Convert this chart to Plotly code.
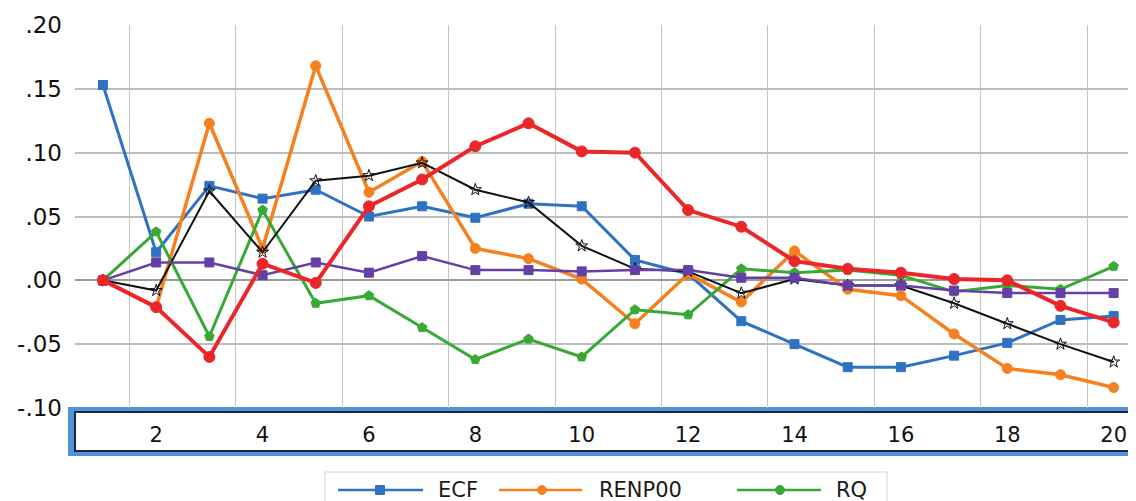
import plotly.graph_objects as go

periods = list(range(1, 21))

ecf = [0.153, 0.022, 0.074, 0.064, 0.071, 0.050, 0.058, 0.049, 0.060, 0.058,
       0.016, 0.005, -0.032, -0.050, -0.068, -0.068, -0.059, -0.049, -0.031, -0.028]
renp00 = [0.000, -0.021, 0.123, 0.025, 0.168, 0.069, 0.093, 0.025, 0.017, 0.001,
          -0.034, 0.005, -0.017, 0.023, -0.007, -0.012, -0.042, -0.069, -0.074, -0.084]
rq = [0.000, 0.038, -0.044, 0.055, -0.018, -0.012, -0.037, -0.062, -0.046, -0.060,
      -0.023, -0.027, 0.009, 0.006, 0.008, 0.004, -0.009, -0.004, -0.007, 0.011]
series_black = [0.000, -0.008, 0.070, 0.022, 0.078, 0.082, 0.092, 0.071, 0.061, 0.027,
                0.009, 0.007, -0.010, 0.001, -0.004, -0.004, -0.018, -0.034, -0.050, -0.064]
series_red = [0.000, -0.021, -0.060, 0.013, -0.002, 0.058, 0.079, 0.105, 0.123, 0.101,
              0.100, 0.055, 0.042, 0.015, 0.009, 0.006, 0.001, 0.000, -0.020, -0.033]
series_purple = [0.000, 0.014, 0.014, 0.004, 0.014, 0.006, 0.019, 0.008, 0.008, 0.007,
                 0.008, 0.008, 0.002, 0.002, -0.004, -0.004, -0.008, -0.010, -0.010, -0.010]

y_tickvals = [-0.10, -0.05, 0.00, 0.05, 0.10, 0.15, 0.20]
y_ticktext = ["-.10", "-.05", ".00", ".05", ".10", ".15", ".20"]
x_tickvals = [2, 4, 6, 8, 10, 12, 14, 16, 18, 20]

# name, values, colour, line width, marker symbol, marker size, shown in legend
traces = [
    ("ECF", ecf, "#2f72c2", 3, "square", 9, True),
    ("RENP00", renp00, "#f5801f", 3.5, "circle", 10, True),
    ("RQ", rq, "#38a935", 3, "pentagon", 10, True),
    ("Series 4", series_black, "#111111", 2, "star-open", 9, False),
    ("Series 6", series_purple, "#6440a6", 2.5, "square", 9, False),
    ("Series 5", series_red, "#ea2629", 4, "circle", 11, False),
]

# the page body adds an 8px offset; geometry below is in screenshot pixels
OFF = 8
L, T, W, H = 75, 25, 1061, 383
FIG_W, FIG_H = 1136, 501


def px_x(p):
    return (p - L) / W


def px_y(p):
    return (T + H - p) / H


fig = go.Figure()
for name, vals, color, lw, sym, ms, show in traces:
    fig.add_trace(go.Scatter(
        x=periods, y=vals, name=name, mode="lines+markers",
        line=dict(color=color, width=lw),
        marker=dict(symbol=sym, size=ms, color=color, line=dict(color=color, width=1)),
        showlegend=False,
    ))

shapes = [
    # blue framed box behind the x tick labels
    dict(type="rect", xref="paper", yref="paper", layer="below",
         x0=px_x(68), x1=px_x(1145), y0=px_y(456), y1=px_y(407),
         fillcolor="#4f93db", line=dict(width=0)),
    dict(type="rect", xref="paper", yref="paper", layer="below",
         x0=px_x(75), x1=px_x(1145), y0=px_y(451), y1=px_y(412),
         fillcolor="white", line=dict(color="#1c2540", width=2)),
    # legend frame
    dict(type="rect", xref="paper", yref="paper", layer="below",
         x0=px_x(325), x1=px_x(887), y0=px_y(540), y1=px_y(472),
         fillcolor="white", line=dict(color="#d2d2d2", width=1)),
]
annotations = []

legend_slots = [(338, 423, 380, 437), (499, 582, 542, 598), (737, 821, 780, 835)]
leg_y = 490
for (name, vals, color, lw, sym, ms, show), (lx0, lx1, mx, tx) in zip(
        [t for t in traces if t[6]], legend_slots):
    shapes.append(dict(type="line", xref="paper", yref="paper",
                       x0=px_x(lx0), x1=px_x(lx1), y0=px_y(leg_y), y1=px_y(leg_y),
                       line=dict(color=color, width=2.5)))
    shapes.append(dict(type="rect" if sym == "square" else "circle",
                       xref="paper", yref="paper",
                       xsizemode="pixel", ysizemode="pixel",
                       xanchor=px_x(mx), yanchor=px_y(leg_y),
                       x0=-4.5, x1=4.5, y0=-4.5, y1=4.5,
                       fillcolor=color, line=dict(color=color, width=1)))
    annotations.append(dict(xref="paper", yref="paper", x=px_x(tx), y=px_y(leg_y),
                            xanchor="left", yanchor="middle", showarrow=False,
                            borderpad=0,
                            text=name, font=dict(size=21, family="DejaVu Sans",
                                                 color="#1a1a1a")))

fig.update_layout(
    width=FIG_W, height=FIG_H,
    margin=dict(l=L - OFF, r=FIG_W - (L - OFF) - W, t=T - OFF, b=FIG_H - (T - OFF) - H),
    paper_bgcolor="white", plot_bgcolor="white",
    font=dict(family="DejaVu Sans", color="#1a1a1a"),
    showlegend=False,
    xaxis=dict(
        range=[0.474, 20.42], tickvals=x_tickvals, showgrid=False, zeroline=False,
        showline=False, ticks="", ticklabelstandoff=12, automargin=False,
        tickfont=dict(size=21, family="DejaVu Sans", color="#111"),
        minor=dict(tickvals=[1.5 + 2 * i for i in range(10)], showgrid=True,
                   gridcolor="#c4c4c4", gridwidth=1.2, ticks=""),
    ),
    yaxis=dict(
        range=[-0.10, 0.20], tickvals=y_tickvals, ticktext=y_ticktext,
        showgrid=False, zeroline=True, zerolinecolor="#9a9a9a", zerolinewidth=2,
        showline=False, ticks="", ticklabelstandoff=12, automargin=False,
        tickfont=dict(size=23, family="DejaVu Sans", color="#111"),
        minor=dict(tickvals=[-0.05, 0.05, 0.10, 0.15], showgrid=True,
                   gridcolor="#bdbdbd", gridwidth=1.5, ticks=""),
    ),
    shapes=shapes,
    annotations=annotations,
)

fig.write_html("out.html")
